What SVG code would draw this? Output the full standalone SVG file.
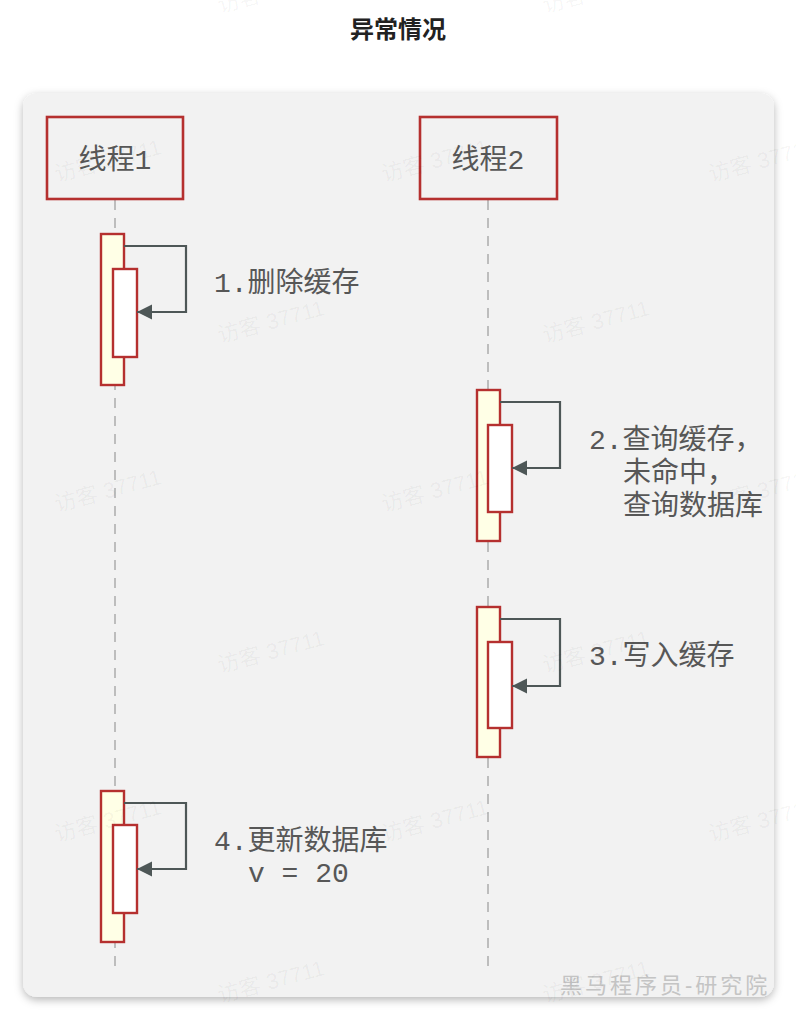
<svg xmlns="http://www.w3.org/2000/svg" width="796" height="1021" viewBox="0 0 796 1021">
<defs>
<filter id="sh" x="-10%" y="-10%" width="120%" height="120%">
<feDropShadow dx="0" dy="3" stdDeviation="4" flood-color="#000" flood-opacity="0.28"/>
</filter>
<marker id="ah" markerUnits="userSpaceOnUse" markerWidth="16" markerHeight="16" refX="15" refY="8" orient="auto">
<path d="M0,0.5 L15,8 L0,15.5 Z" fill="#4e5757"/>
</marker>
<style>
.title{font-family:"Liberation Sans","Noto Sans CJK SC",sans-serif;font-size:24px;font-weight:bold;fill:#222;}
.lbl{font-family:"Liberation Mono","Noto Sans CJK SC",monospace;font-size:28px;fill:#575757;}
.head{fill:none;stroke:#b5302f;stroke-width:2.6;}
.act{fill:#ffffe6;stroke:#b5302f;stroke-width:2.4;}
.act2{fill:#ffffff;stroke:#b5302f;stroke-width:2.4;}
.life{stroke:#bdbdbd;stroke-width:2;stroke-dasharray:10 8;fill:none;}
.msg{fill:none;stroke:#4e5757;stroke-width:2.2;marker-end:url(#ah);}
.wm{font-family:"Liberation Sans","Noto Sans CJK SC",sans-serif;font-size:22px;fill:#000;fill-opacity:0.045;}
.brand{font-family:"Liberation Sans","Noto Sans CJK SC",sans-serif;font-size:22px;fill:#c4c4c4;letter-spacing:3px;}
</style>
</defs>
<rect width="796" height="1021" fill="#ffffff"/>
<text class="title" x="398" y="38" text-anchor="middle">异常情况</text>
<rect x="23" y="93" width="751" height="904" rx="14" fill="#f2f2f2" filter="url(#sh)"/>

<g id="lifelines">
<line class="life" x1="115" y1="200" x2="115" y2="966"/>
<line class="life" x1="488" y1="200" x2="488" y2="966"/>
</g>

<g id="thread1">
<rect class="head" x="47" y="117" width="136" height="82"/>
<text class="lbl" x="115" y="169" text-anchor="middle">线程1</text>
</g>
<g id="thread2">
<rect class="head" x="420" y="117" width="137" height="82"/>
<text class="lbl" x="488" y="169" text-anchor="middle">线程2</text>
</g>

<g id="act1">
<rect class="act" x="101" y="234" width="23" height="151"/>
<rect class="act2" x="113" y="269" width="24" height="88"/>
</g>
<g id="act2">
<rect class="act" x="477" y="390" width="23" height="151"/>
<rect class="act2" x="488" y="425" width="24" height="87"/>
</g>
<g id="act3">
<rect class="act" x="477" y="607" width="23" height="150"/>
<rect class="act2" x="488" y="642" width="24" height="86"/>
</g>
<g id="act4">
<rect class="act" x="101" y="791" width="23" height="151"/>
<rect class="act2" x="113" y="825" width="24" height="88"/>
</g>

<g id="connectors">
<path class="msg" d="M124,246 H186 V312 H137"/>
<path class="msg" d="M500,402 H560 V468 H512"/>
<path class="msg" d="M500,619 H560 V686 H512"/>
<path class="msg" d="M124,803 H186 V869 H137"/>
</g>

<g id="labels">
<text class="lbl" x="214" y="292">1.删除缓存</text>
<text class="lbl" x="589" y="449">2.查询缓存，</text>
<text class="lbl" x="623" y="482">未命中，</text>
<text class="lbl" x="623" y="515">查询数据库</text>
<text class="lbl" x="589" y="665">3.写入缓存</text>
<text class="lbl" x="214" y="850">4.更新数据库</text>
<text class="lbl" x="248" y="882">v = 20</text>
</g>

<text class="brand" x="560" y="993">黑马程序员-研究院</text>

<g id="watermarks">
<text class="wm" transform="translate(220,13) rotate(-15)">访客 37711</text>
<text class="wm" transform="translate(545,13) rotate(-15)">访客 37711</text>
<text class="wm" transform="translate(220,343) rotate(-15)">访客 37711</text>
<text class="wm" transform="translate(545,343) rotate(-15)">访客 37711</text>
<text class="wm" transform="translate(220,673) rotate(-15)">访客 37711</text>
<text class="wm" transform="translate(545,673) rotate(-15)">访客 37711</text>
<text class="wm" transform="translate(220,1003) rotate(-15)">访客 37711</text>
<text class="wm" transform="translate(545,1003) rotate(-15)">访客 37711</text>
<text class="wm" transform="translate(57,182) rotate(-15)">访客 37711</text>
<text class="wm" transform="translate(384,182) rotate(-15)">访客 37711</text>
<text class="wm" transform="translate(711,182) rotate(-15)">访客 37711</text>
<text class="wm" transform="translate(57,512) rotate(-15)">访客 37711</text>
<text class="wm" transform="translate(384,512) rotate(-15)">访客 37711</text>
<text class="wm" transform="translate(711,512) rotate(-15)">访客 37711</text>
<text class="wm" transform="translate(57,842) rotate(-15)">访客 37711</text>
<text class="wm" transform="translate(384,842) rotate(-15)">访客 37711</text>
<text class="wm" transform="translate(711,842) rotate(-15)">访客 37711</text>
</g>
</svg>
